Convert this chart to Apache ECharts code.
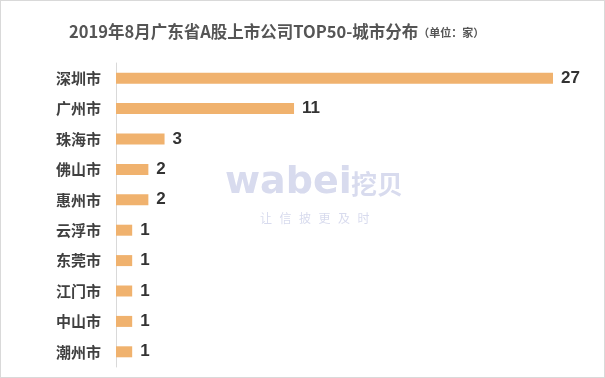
<!DOCTYPE html>
<html>
<head>
<meta charset="utf-8">
<script src="https://cdn.jsdelivr.net/npm/echarts@6/dist/echarts.min.js"></script>
<style>
  html, body { margin: 0; padding: 0; background: #fff; }
  #main { width: 603px; height: 376px; border: 1px solid #d9d9d9; }
</style>
</head>
<body>
<div id="main"></div>
<script>
// city names, top to bottom
var cities = ['深圳市', '广州市', '珠海市', '佛山市', '惠州市', '云浮市', '东莞市', '江门市', '中山市', '潮州市'];
// number of listed companies
var counts = [27, 11, 3, 2, 2, 1, 1, 1, 1, 1];

var chart = echarts.init(document.getElementById('main'));

// watermark slogan, one char at a time so it can be spaced out
var slogan = '让信披更及时'.split('').map(function (ch, i) {
  return {
    type: 'text', left: 259 + i * 19.5, top: 211,
    style: { text: ch, fontSize: 12, fill: '#d8dbee', fontFamily: 'Noto Sans CJK SC' }
  };
});

chart.setOption({
  animation: false,
  title: {
    text: '{main|2019年8月广东省A股上市公司TOP50-城市分布}{unit|（单位：家）}',
    left: 63,
    top: 17,
    textStyle: {
      rich: {
        main: { fontSize: 16.5, fontWeight: 'bold', color: '#555', fontFamily: 'Noto Sans CJK SC' },
        unit: { fontSize: 11, color: '#555', fontFamily: 'Noto Sans CJK SC', padding: [3, 0, 0, 0] }
      }
    }
  },
  graphic: [
    {
      type: 'text', left: 224, top: 163,
      style: { text: 'wabei', fontSize: 38, fontWeight: 'bold', fill: '#d8dbee', fontFamily: 'DejaVu Sans' }
    },
    {
      type: 'text', left: 350, top: 170,
      style: { text: '挖贝', fontSize: 26, fontWeight: 'bold', fill: '#d8dbee', fontFamily: 'Noto Sans CJK SC' }
    }
  ].concat(slogan),
  grid: { left: 115, right: 51, top: 62, bottom: 10 },
  xAxis: {
    type: 'value',
    min: 0,
    max: 27,
    show: false
  },
  yAxis: {
    type: 'category',
    inverse: true,
    data: cities,
    axisLine: { show: true, lineStyle: { color: '#d9d9d9' } },
    axisTick: { show: false },
    axisLabel: {
      margin: 15,
      fontSize: 15,
      fontWeight: 'bold',
      color: '#404040',
      fontFamily: 'Noto Sans CJK SC'
    }
  },
  series: [{
    type: 'bar',
    data: counts,
    barWidth: 11,
    itemStyle: { color: '#f0b26e' },
    label: {
      show: true,
      position: 'right',
      distance: 8,
      fontSize: 17,
      fontWeight: 'bold',
      color: '#333',
      fontFamily: 'Arial'
    }
  }]
});
</script>
</body>
</html>
